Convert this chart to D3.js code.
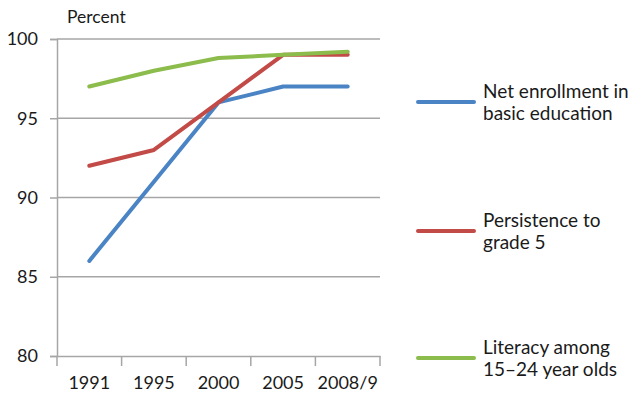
<!DOCTYPE html>
<html><head><meta charset="utf-8">
<script src="https://cdn.jsdelivr.net/npm/d3@7"></script>
<style>
body{margin:0;background:#fff;}
text{font-family:Lato,"Open Sans",sans-serif;fill:#1a1a1a;}
</style></head>
<body><svg id="c" width="630" height="393"></svg>
<script>
const years = ["1991", "1995", "2000", "2005", "2008/9"];
const enrollment = [86, 91, 96, 97, 97];
const persistence = [92, 93, 96, 99, 99];
const literacy = [97, 98, 98.8, 99, 99.2];
const yTicks = [80, 85, 90, 95, 100];
const seriesNames = [["Net enrollment in", "basic education"], ["Persistence to", "grade 5"], ["Literacy among", "15\u201324 year olds"]];
const colors = ["#4a84c4", "#c24a47", "#8cbc4c"];

const svg = d3.select("#c");
const x = d3.scaleBand().domain(years).range([57, 380]);
const y = d3.scaleLinear().domain([80, 100]).range([356, 39]);

// gridlines
svg.append("g").selectAll("line").data(yTicks.slice(1)).join("line")
  .attr("x1", 57).attr("x2", 380).attr("y1", d => y(d)).attr("y2", d => y(d))
  .attr("stroke", "#a6a6a6").attr("stroke-width", 1.5);

// y axis
const ya = svg.append("g").attr("transform", "translate(57,0)")
  .call(d3.axisLeft(y).tickValues(yTicks).tickSize(7).tickPadding(12));
ya.select(".domain").attr("stroke", "#a6a6a6").attr("stroke-width", 1.5);
ya.selectAll(".tick line").attr("stroke", "#a6a6a6").attr("stroke-width", 1.5);
ya.selectAll("text").attr("font-size", 18).attr("fill", "#1a1a1a").attr("font-family", "Lato, sans-serif");

// x axis
const xa = svg.append("g").attr("transform", "translate(0,356)")
  .call(d3.axisBottom(x).tickSize(0).tickPadding(20));
xa.select(".domain").attr("stroke", "#a6a6a6").attr("stroke-width", 1.5);
xa.selectAll("text").attr("font-size", 18).attr("fill", "#1a1a1a").attr("font-family", "Lato, sans-serif");
// category boundary ticks
const bounds = years.map(d => x(d)).concat([x.range()[1]]);
svg.append("g").selectAll("line").data(bounds).join("line")
  .attr("x1", d => d).attr("x2", d => d).attr("y1", 356).attr("y2", 366)
  .attr("stroke", "#a6a6a6").attr("stroke-width", 1.5);

svg.append("text").attr("x", 67).attr("y", 23).attr("font-size", 17.5).text("Percent");

const line = d3.line().x((d, i) => x(years[i]) + x.bandwidth() / 2).y(d => y(d));
const series = [enrollment, persistence, literacy];
// literacy drawn last so it sits on top
[0, 1, 2].forEach(i => {
  svg.append("path").datum(series[i]).attr("d", line)
    .attr("fill", "none").attr("stroke", colors[i]).attr("stroke-width", 4)
    .attr("stroke-linejoin", "round").attr("stroke-linecap", "round");
});

// legend
const legY = [102, 231, 358];
seriesNames.forEach((names, i) => {
  const g = svg.append("g");
  g.append("line").attr("x1", 418).attr("x2", 474).attr("y1", legY[i]).attr("y2", legY[i])
    .attr("stroke", colors[i]).attr("stroke-width", 4).attr("stroke-linecap", "round");
  names.forEach((t, j) => {
    g.append("text").attr("x", 483).attr("y", legY[i] - 4 + j * 22).attr("font-size", 19).text(t);
  });
});
</script></body></html>
